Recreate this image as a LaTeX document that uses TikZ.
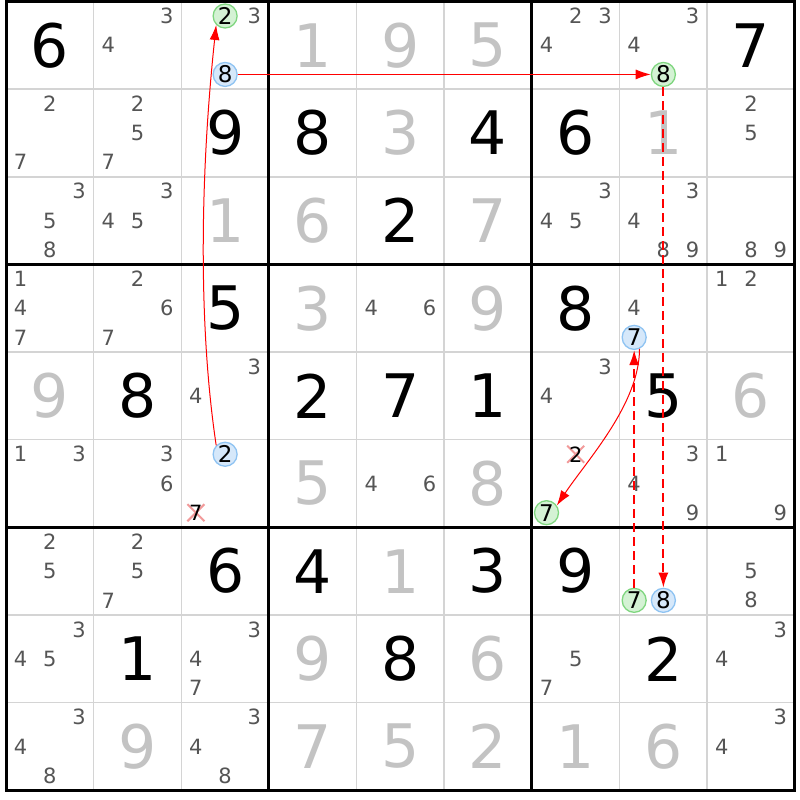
\documentclass[tikz,border=0pt]{standalone}
\usepackage{fontspec}
\setmainfont{DejaVu Sans}
\usetikzlibrary{arrows.meta}
\definecolor{candgray}{HTML}{555555}
\definecolor{solvedgray}{HTML}{C3C3C3}
\definecolor{gridgray}{HTML}{D4D4D4}
\definecolor{grnfill}{HTML}{D4F2D4}
\definecolor{grnline}{HTML}{7FD67F}
\definecolor{blufill}{HTML}{D6E8FA}
\definecolor{bluline}{HTML}{8EC3F2}
\definecolor{xpink}{HTML}{F29A9A}
\definecolor{arrred}{HTML}{FF0000}
\newcommand\Giv[4][given]{\node[#1] (d#2#3) at ({6+(#3-0.5)*87.65},{1.4+(#2-0.5)*87.65}) {#4};}
\newcommand\Cand[4][cand]{\node[#1] (c#2#3#4) at ({6+(#3-1)*87.65+(mod(#4-1,3)+0.5)*29.217},{1.4+(#2-1)*87.65+(floor((#4-1)/3)+0.5)*29.217}) {#4};}
\newcommand\Cands[3]{\foreach \q in {#3}{\Cand{#1}{#2}{\q}}}
\newcommand\Xm[3]{\draw[xmark] ({6+(#2-1)*87.65+(mod(#3-1,3)+0.5)*29.217-8.5},{1.4+(#1-1)*87.65+(floor((#3-1)/3)+0.5)*29.217-8.5}) -- ++(17,17) ++(0,-17) -- ++(-17,17);}
\begin{document}
\begin{tikzpicture}[x=1pt,y=-1pt,
  given/.style={font=\fontsize{60}{60}\selectfont, text=black, inner sep=0pt},
  solved/.style={given, text=solvedgray},
  cand/.style={font=\fontsize{21}{21}\selectfont, text=candgray, inner sep=0pt},
  candring/.style={cand, text=black, circle, line width=1.3pt, minimum size=24pt, font=\fontsize{23}{23}\selectfont},
  candg/.style={candring, draw=grnline, fill=grnfill},
  candb/.style={candring, draw=bluline, fill=blufill},
  xmark/.style={draw=xpink, line width=2pt},
  candx/.style={cand, text=black},
  gridthinline/.style={draw=gridgray, line width=1.6pt},
  gridthickline/.style={draw=black, line width=3pt},
  arr/.style={draw=arrred, line width=1pt, -{Latex[length=15pt,width=10pt]}},
  arrd/.style={arr, line width=1.8pt, dash pattern=on 9pt off 5pt}]
\fill[white] (0,0) rectangle (800,800);
\useasboundingbox (0,0) rectangle (800,800);
% grid
\foreach \i in {1,2,4,5,7,8}{
  \draw[gridthinline] ({6+\i*87.65},1.4) -- ({6+\i*87.65},790.25);
  \draw[gridthinline] (6,{1.4+\i*87.65}) -- (794.85,{1.4+\i*87.65});
}
\foreach \i in {3,6}{
  \draw[gridthickline] ({6+\i*87.65},1.4) -- ({6+\i*87.65},790.25);
  \draw[gridthickline] (6,{1.4+\i*87.65}) -- (794.85,{1.4+\i*87.65});
}
\draw[gridthickline] (6,1.4) rectangle (794.85,790.25);
% given digits
\Giv{1}{1}{6} \Giv{1}{9}{7}
\Giv{2}{3}{9} \Giv{2}{4}{8} \Giv{2}{6}{4} \Giv{2}{7}{6}
\Giv{3}{5}{2}
\Giv{4}{3}{5} \Giv{4}{7}{8}
\Giv{5}{2}{8} \Giv{5}{4}{2} \Giv{5}{5}{7} \Giv{5}{6}{1} \Giv{5}{8}{5}
\Giv{7}{3}{6} \Giv{7}{4}{4} \Giv{7}{6}{3} \Giv{7}{7}{9}
\Giv{8}{2}{1} \Giv{8}{5}{8} \Giv{8}{8}{2}
% solved digits
\Giv[solved]{1}{4}{1} \Giv[solved]{1}{5}{9} \Giv[solved]{1}{6}{5}
\Giv[solved]{2}{5}{3} \Giv[solved]{2}{8}{1}
\Giv[solved]{3}{3}{1} \Giv[solved]{3}{4}{6} \Giv[solved]{3}{6}{7}
\Giv[solved]{4}{4}{3} \Giv[solved]{4}{6}{9}
\Giv[solved]{5}{1}{9} \Giv[solved]{5}{9}{6}
\Giv[solved]{6}{4}{5} \Giv[solved]{6}{6}{8}
\Giv[solved]{7}{5}{1}
\Giv[solved]{8}{4}{9} \Giv[solved]{8}{6}{6}
\Giv[solved]{9}{2}{9} \Giv[solved]{9}{4}{7} \Giv[solved]{9}{5}{5} \Giv[solved]{9}{6}{2} \Giv[solved]{9}{7}{1} \Giv[solved]{9}{8}{6}
% candidates
\Cands{1}{2}{3,4} \Cands{1}{3}{3} \Cands{1}{7}{2,3,4} \Cands{1}{8}{3,4}
\Cands{2}{1}{2,7} \Cands{2}{2}{2,5,7} \Cands{2}{9}{2,5}
\Cands{3}{1}{3,5,8} \Cands{3}{2}{3,4,5} \Cands{3}{7}{3,4,5} \Cands{3}{8}{3,4,8,9} \Cands{3}{9}{8,9}
\Cands{4}{1}{1,4,7} \Cands{4}{2}{2,6,7} \Cands{4}{5}{4,6} \Cands{4}{8}{4} \Cands{4}{9}{1,2}
\Cands{5}{3}{3,4} \Cands{5}{7}{3,4}
\Cands{6}{1}{1,3} \Cands{6}{2}{3,6} \Cands{6}{5}{4,6} \Cands{6}{8}{3,4,9} \Cands{6}{9}{1,9}
\Cands{7}{1}{2,5} \Cands{7}{2}{2,5,7} \Cands{7}{9}{5,8}
\Cands{8}{1}{3,4,5} \Cands{8}{3}{3,4,7} \Cands{8}{7}{5,7} \Cands{8}{9}{3,4}
\Cands{9}{1}{3,4,8} \Cands{9}{3}{3,4,8} \Cands{9}{9}{3,4}
% highlighted candidates
\Cand[candg]{1}{3}{2} \Cand[candg]{1}{8}{8} \Cand[candg]{6}{7}{7} \Cand[candg]{7}{8}{7}
\Cand[candb]{1}{3}{8} \Cand[candb]{4}{8}{7} \Cand[candb]{6}{3}{2} \Cand[candb]{7}{8}{8}
% eliminated candidates
\Xm{6}{3}{7} \Xm{6}{7}{2}
\Cand[candx]{6}{3}{7} \Cand[candx]{6}{7}{2}
% chain
\draw[arr] (c138) -- (c188);
\draw[arrd] (c188) -- (c788);
\draw[arrd] (c787) -- (c487);
\draw[arr] (c487.295) .. controls +(0,55) and +(30,-45) .. (c677.35);
\draw[arr] (c632.135) .. controls +(-18,-120) and +(-16,150) .. (c132.225);
\end{tikzpicture}
\end{document}
